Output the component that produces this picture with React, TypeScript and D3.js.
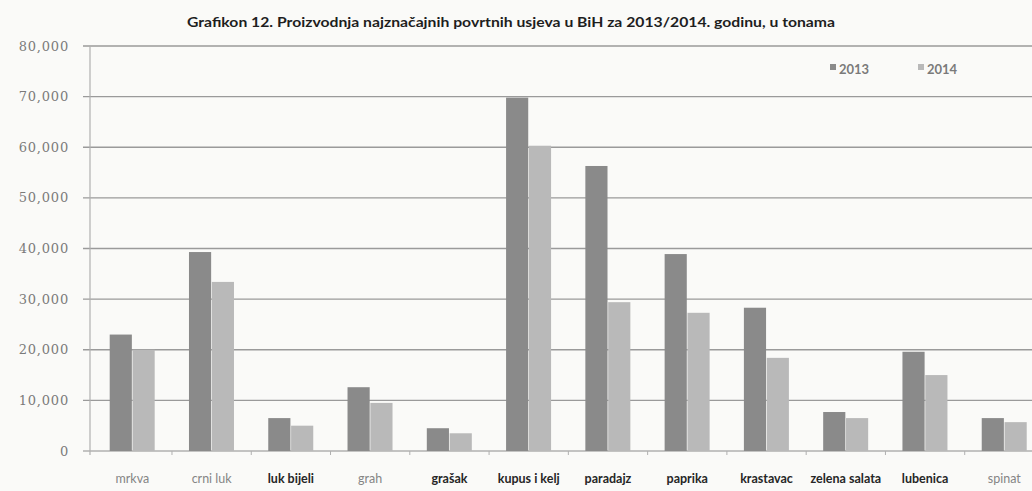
import { useMemo } from 'react';
import * as d3 from 'd3';

const W = 1032;
const H = 491;
const PLOT = { left: 92.7, right: 1044, top: 46, bottom: 451 };

const categories = [
  'mrkva', 'crni luk', 'luk bijeli', 'grah', 'grašak', 'kupus i kelj',
  'paradajz', 'paprika', 'krastavac', 'zelena salata', 'lubenica', 'spinat',
];
const values2013 = [23000, 39300, 6500, 12600, 4500, 69800, 56300, 38900, 28300, 7700, 19600, 6500];
const values2014 = [20000, 33400, 5000, 9500, 3500, 60300, 29400, 27300, 18400, 6500, 15000, 5700];
const series = ['2013', '2014'];
const yTicks = [0, 10000, 20000, 30000, 40000, 50000, 60000, 70000, 80000];
// faded labels in the scan
const fadedLabels = ['mrkva', 'crni luk', 'grah', 'spinat'];

const COLORS: Record<string, string> = { '2013': '#8a8a8a', '2014': '#b9b9b9' };
const TITLE = 'Grafikon 12. Proizvodnja najznačajnih povrtnih usjeva u BiH za 2013/2014. godinu, u tonama';

export default function App() {
  const x = useMemo(
    () => d3.scaleBand<string>().domain(categories).range([PLOT.left, PLOT.right]).padding(0),
    []
  );
  const xInner = useMemo(
    () => d3.scaleBand<string>().domain(series).range([17, 62]).paddingInner(0.03),
    []
  );
  const y = useMemo(
    () => d3.scaleLinear().domain([0, 80000]).range([PLOT.bottom, PLOT.top]),
    []
  );
  const fmt = d3.format(',');
  const data = categories.map((c, i) => ({ c, v: [values2013[i], values2014[i]] }));

  return (
    <svg
      width={W}
      height={H}
      style={{ position: 'absolute', left: 0, top: 0, background: '#fafaf8' }}
    >
      <text
        x={187}
        y={27}
        fontFamily="Lato, sans-serif"
        fontWeight={700}
        fontSize={13.5}
        fill="#1e1e1e"
        textLength={648}
        lengthAdjust="spacingAndGlyphs"
      >
        {TITLE}
      </text>

      {/* gridlines + y labels */}
      {yTicks.map((t) => (
        <g key={t}>
          <line
            x1={83}
            x2={W}
            y1={y(t)}
            y2={y(t)}
            stroke={t === 0 ? '#b0b0b0' : '#9a9a9a'}
            strokeWidth={1.3}
          />
          <text
            x={69}
            y={y(t)}
            dy="0.35em"
            textAnchor="end"
            fontFamily="'DejaVu Serif', serif"
            fontSize={13}
            letterSpacing={0.8}
            fill="#7a7a7a"
          >
            {fmt(t)}
          </text>
        </g>
      ))}
      <line x1={90} x2={90} y1={PLOT.top} y2={PLOT.bottom + 4} stroke="#b0b0b0" strokeWidth={1.2} />

      {/* category ticks */}
      {categories.slice(1).map((c) => (
        <line
          key={c}
          x1={x(c)!}
          x2={x(c)!}
          y1={PLOT.bottom}
          y2={PLOT.bottom + 4}
          stroke="#b0b0b0"
        />
      ))}

      {/* bars */}
      {data.map((d) => (
        <g key={d.c} transform={`translate(${x(d.c)},0)`}>
          {series.map((s, j) => (
            <rect
              key={s}
              x={xInner(s)}
              y={y(d.v[j])}
              width={xInner.bandwidth()}
              height={y(0) - y(d.v[j])}
              fill={COLORS[s]}
            />
          ))}
        </g>
      ))}

      {/* category labels */}
      {categories.map((c) => {
        const faded = fadedLabels.includes(c);
        return (
          <text
            key={c}
            x={x(c)! + x.bandwidth() / 2}
            y={483}
            textAnchor="middle"
            fontFamily="Lato, sans-serif"
            fontSize={12.5}
            fontWeight={faded ? 400 : 700}
            fill={faded ? '#858585' : '#262626'}
          >
            {c}
          </text>
        );
      })}

      {/* legend */}
      {series.map((s, i) => (
        <g key={s} transform={`translate(${830 + i * 88},0)`}>
          <rect x={0} y={64} width={6} height={6} fill={COLORS[s]} />
          <text
            x={9}
            y={74}
            fontFamily="Lato, sans-serif"
            fontWeight={700}
            fontSize={13}
            fill="#7a7a7a"
          >
            {s}
          </text>
        </g>
      ))}
    </svg>
  );
}
